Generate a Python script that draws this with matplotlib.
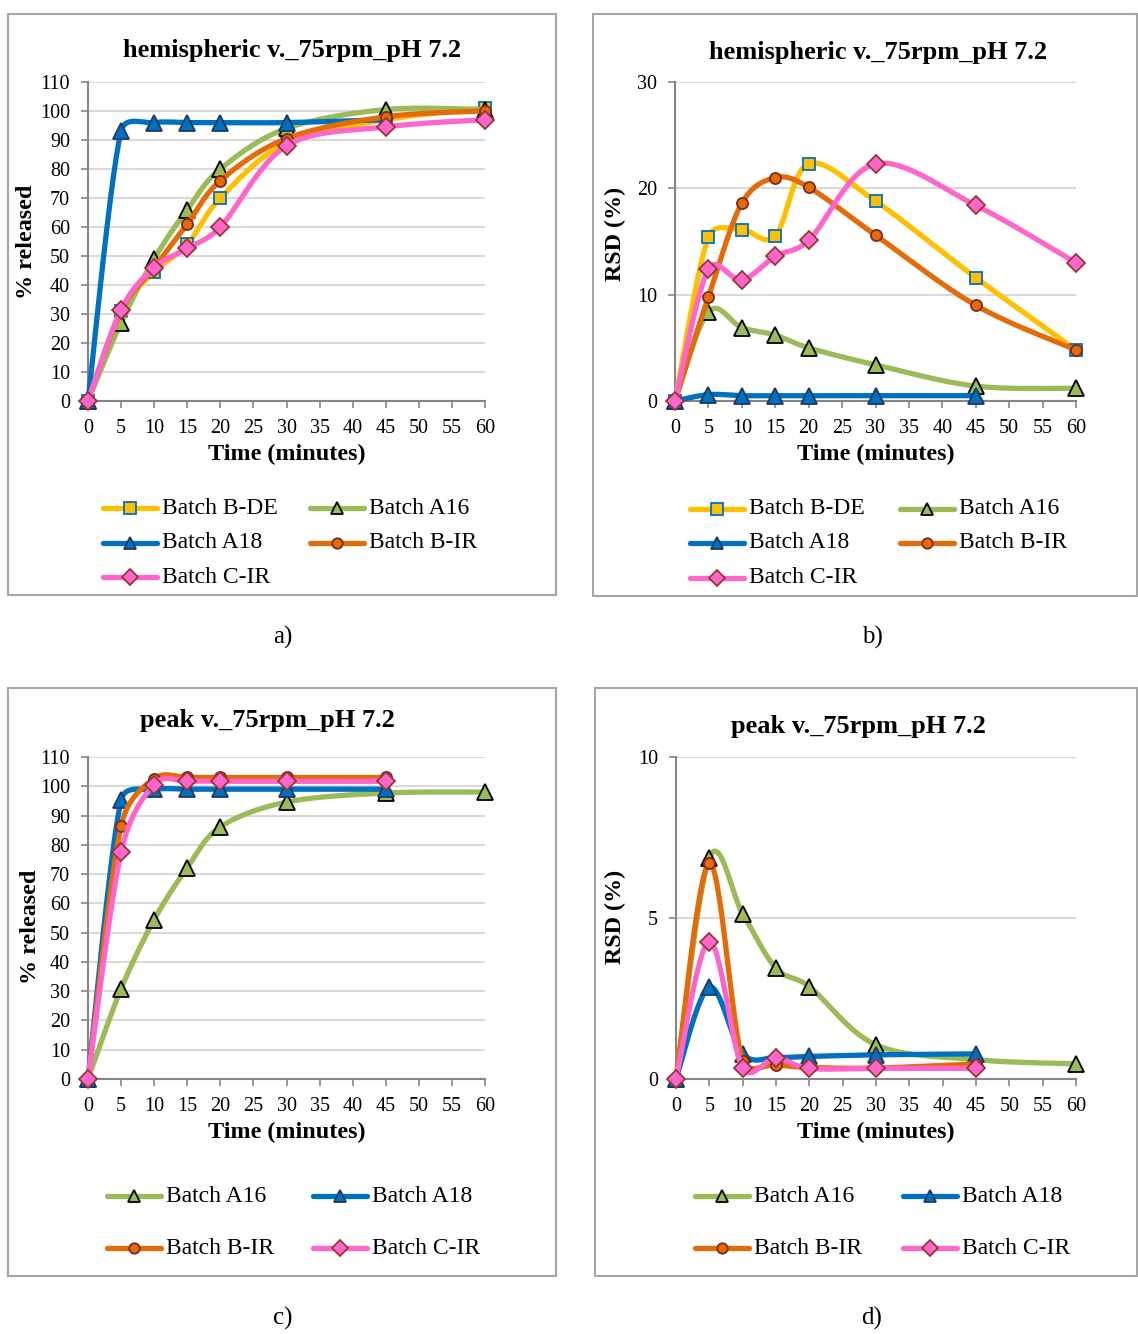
import numpy as np
import matplotlib
matplotlib.use('Agg')
import matplotlib.pyplot as plt
from matplotlib.lines import Line2D
from matplotlib.patches import Rectangle

W, H = 1138, 1334
plt.rcParams['font.family'] = ['Liberation Serif', 'DejaVu Serif']

# time points (minutes)
t_full = [0, 5, 10, 15, 20, 30, 45, 60]
t_45 = [0, 5, 10, 15, 20, 30, 45]

# a) hemispheric, % released
a_bde = [0, 31, 44.5, 54, 70, 89, 97, 101]
a_a16 = [0, 27, 49, 66, 80, 94, 100.5, 100.5]
a_a18 = [0, 93, 96, 96, 96, 96, 97]
a_bir = [0, 31, 46, 61, 76, 90.5, 98, 100]
a_cir = [0, 31.5, 46, 52.6, 60, 88, 94.5, 97]

# b) hemispheric, RSD (%)
b_bde = [0, 15.4, 16.1, 15.5, 22.3, 18.8, 11.6, 4.8]
b_a16 = [0, 8.4, 6.9, 6.2, 5.0, 3.4, 1.4, 1.2]
b_a18 = [0, 0.6, 0.5, 0.5, 0.5, 0.5, 0.5]
b_bir = [0, 9.8, 18.6, 21.0, 20.1, 15.6, 9.0, 4.8]
b_cir = [0, 12.4, 11.4, 13.6, 15.1, 22.3, 18.4, 13.0]

# c) peak, % released
c_a16 = [0, 30.8, 54.4, 72.2, 86.1, 94.6, 97.7, 98]
c_a18 = [0, 95.2, 98.9, 99, 99, 99, 99]
c_bir = [0, 86.4, 102.6, 103, 103, 103, 103]
c_cir = [0, 77.5, 100.6, 101.7, 101.7, 101.7, 101.7]

# d) peak, RSD (%)
d_a16 = [0, 6.87, 5.13, 3.44, 2.87, 1.06, 0.6, 0.47]
d_a18 = [0, 2.85, 0.78, 0.67, 0.7, 0.75, 0.78]
d_bir = [0, 6.7, 0.57, 0.44, 0.36, 0.34, 0.47]
d_cir = [0, 4.27, 0.34, 0.65, 0.33, 0.33, 0.33]

STYLE = {
    'Batch B-DE': dict(color='#FFC000', marker='s', mfc='#FFC000', mec='#0070C0', ms=9),
    'Batch A16': dict(color='#9BBB59', marker='^', mfc='#9BBB59', mec='#000000', ms=11),
    'Batch A18': dict(color='#0070C0', marker='^', mfc='#0070C0', mec='#1F3864', ms=11),
    'Batch B-IR': dict(color='#E36C09', marker='o', mfc='#E36C09', mec='#7F2A1A', ms=8),
    'Batch C-IR': dict(color='#FF66CC', marker='D', mfc='#FF66CC', mec='#953735', ms=9),
}
LEG_MS = {'s': 8, '^': 8.5, 'o': 7.5, 'D': 8}
FRAME = '#a6a6a6'
AXIS = '#868686'
GRID = '#d9d9d9'


def fx(x):
    return x / W


def fy(y):
    return 1 - y / H


def smooth(x, y, sx, sy, n=30):
    # Excel-style smoothed line: bezier through the points, control points
    # limited to half the segment length (computed in pixel space)
    p = np.column_stack([np.asarray(x, float) * sx, np.asarray(y, float) * sy])
    ext = np.vstack([p[0], p, p[-1]])
    s = np.linspace(0, 1, n)[1:, None]
    out = [p[:1]]
    for i in range(len(p) - 1):
        p0, p1, p2, p3 = ext[i], ext[i + 1], ext[i + 2], ext[i + 3]
        d02 = np.hypot(*(p2 - p0))
        d12 = np.hypot(*(p2 - p1))
        d13 = np.hypot(*(p3 - p1))
        f1 = 1 / 6 if d02 / 6 < d12 / 2 else d12 / (2 * d02)
        f2 = 1 / 6 if d13 / 6 < d12 / 2 else d12 / (2 * d13)
        b1 = p1 + (p2 - p0) * f1
        b2 = p2 - (p3 - p1) * f2
        out.append((1 - s) ** 3 * p1 + 3 * (1 - s) ** 2 * s * b1
                   + 3 * (1 - s) * s ** 2 * b2 + s ** 3 * p2)
    c = np.vstack(out)
    return c[:, 0] / sx, c[:, 1] / sy


fig = plt.figure(figsize=(W / 100, H / 100), dpi=100)
fig.patch.set_facecolor('white')

panels = [
    dict(box=(8, 14, 556, 595), ax=(88, 82, 485, 401), ylim=110, yt=np.arange(0, 111, 10),
         title='hemispheric v._75rpm_pH 7.2', tx=292, ty=57, ylabel='% released', yl=(27, 242),
         series=[('Batch B-DE', t_full, a_bde), ('Batch A16', t_full, a_a16),
                 ('Batch A18', t_45, a_a18), ('Batch B-IR', t_full, a_bir),
                 ('Batch C-IR', t_full, a_cir)],
         leg=[(103, 508, 'Batch B-DE'), (310, 508, 'Batch A16'), (103, 543, 'Batch A18'),
              (310, 543, 'Batch B-IR'), (103, 577, 'Batch C-IR')],
         tag='a)', tagpos=(283, 637)),
    dict(box=(593, 14, 1137, 596), ax=(675, 82, 1076, 401), ylim=30, yt=[0, 10, 20, 30],
         title='hemispheric v._75rpm_pH 7.2', tx=878, ty=59, ylabel='RSD (%)', yl=(615, 234),
         series=[('Batch B-DE', t_full, b_bde), ('Batch A16', t_full, b_a16),
                 ('Batch A18', t_45, b_a18), ('Batch B-IR', t_full, b_bir),
                 ('Batch C-IR', t_full, b_cir)],
         leg=[(690, 509, 'Batch B-DE'), (900, 509, 'Batch A16'), (690, 543, 'Batch A18'),
              (900, 543, 'Batch B-IR'), (690, 578, 'Batch C-IR')],
         tag='b)', tagpos=(872, 637)),
    dict(box=(8, 688, 556, 1276), ax=(88, 757, 485, 1079), ylim=110, yt=np.arange(0, 111, 10),
         title='peak v._75rpm_pH 7.2', tx=267, ty=727, ylabel='% released', yl=(30, 927),
         series=[('Batch A16', t_full, c_a16), ('Batch A18', t_45, c_a18),
                 ('Batch B-IR', t_45, c_bir), ('Batch C-IR', t_45, c_cir)],
         leg=[(107, 1196, 'Batch A16'), (313, 1196, 'Batch A18'),
              (107, 1248, 'Batch B-IR'), (313, 1248, 'Batch C-IR')],
         tag='c)', tagpos=(283, 1318)),
    dict(box=(595, 688, 1137, 1276), ax=(676, 757, 1076, 1079), ylim=10, yt=[0, 5, 10],
         title='peak v._75rpm_pH 7.2', tx=858, ty=733, ylabel='RSD (%)', yl=(615, 917),
         series=[('Batch A16', t_full, d_a16), ('Batch A18', t_45, d_a18),
                 ('Batch B-IR', t_45, d_bir), ('Batch C-IR', t_45, d_cir)],
         leg=[(695, 1196, 'Batch A16'), (903, 1196, 'Batch A18'),
              (695, 1248, 'Batch B-IR'), (903, 1248, 'Batch C-IR')],
         tag='d)', tagpos=(872, 1318)),
]

for p in panels:
    x0, y0, x1, y1 = p['box']
    fig.add_artist(Rectangle((fx(x0), fy(y1)), fx(x1 - x0), (y1 - y0) / H,
                             transform=fig.transFigure, fill=False,
                             edgecolor=FRAME, lw=1.5))

    l, t, r, b = p['ax']
    ax = fig.add_axes([fx(l), fy(b), fx(r - l), (b - t) / H])
    ax.set_xlim(0, 60)
    ax.set_ylim(0, p['ylim'])
    ax.set_xticks(range(0, 61, 5))
    ax.set_yticks(p['yt'])
    for sp in ['top', 'right']:
        ax.spines[sp].set_visible(False)
    for sp in ['left', 'bottom']:
        ax.spines[sp].set_color(AXIS)
        ax.spines[sp].set_linewidth(1.5)
    ax.tick_params(axis='both', direction='out', length=5, width=1.2, color=AXIS,
                   labelsize=14.5, labelcolor='black')
    ax.tick_params(axis='x', pad=8)
    ax.tick_params(axis='y', pad=8)
    ax.yaxis.grid(True, color=GRID, lw=1.5)
    ax.set_axisbelow(True)

    px_x = (r - l) / 60
    px_y = (b - t) / p['ylim']
    for k, (name, tx, ty) in enumerate(p['series']):
        st = STYLE[name]
        sx, sy = smooth(tx, ty, px_x, px_y)
        ax.plot(sx, sy, color=st['color'], lw=3.8, solid_capstyle='round',
                zorder=3 + 2 * k, clip_on=False)
        ax.plot(tx, ty, ls='none', marker=st['marker'], ms=st['ms'],
                mfc=st['mfc'], mec=st['mec'], mew=1.3, zorder=4 + 2 * k, clip_on=False)

    fig.text(fx(p['tx']), fy(p['ty']), p['title'], fontsize=19, fontweight='bold',
             ha='center', va='baseline')
    cx = (l + r) / 2
    fig.text(fx(cx), fy(b + 59), 'Time (minutes)', fontsize=17.4, fontweight='bold',
             ha='center', va='baseline')
    fig.text(fx(p['yl'][0]), fy(p['yl'][1]), p['ylabel'], fontsize=17.4,
             fontweight='bold', rotation=90, ha='center', va='center')

    for lx, ly, name in p['leg']:
        st = STYLE[name]
        fig.add_artist(Line2D([fx(lx), fx(lx + 54)], [fy(ly), fy(ly)],
                              transform=fig.transFigure, color=st['color'], lw=3.8,
                              solid_capstyle='round'))
        fig.add_artist(Line2D([fx(lx + 27)], [fy(ly)], transform=fig.transFigure,
                              ls='none', marker=st['marker'], ms=LEG_MS[st['marker']],
                              mfc=st['mfc'], mec=st['mec'], mew=1.3))
        fig.text(fx(lx + 59), fy(ly), name, fontsize=17, ha='left', va='center')

    fig.text(fx(p['tagpos'][0]), fy(p['tagpos'][1]), p['tag'], fontsize=18,
             ha='center', va='center')

fig.savefig('out.png', dpi=100, facecolor='white')
